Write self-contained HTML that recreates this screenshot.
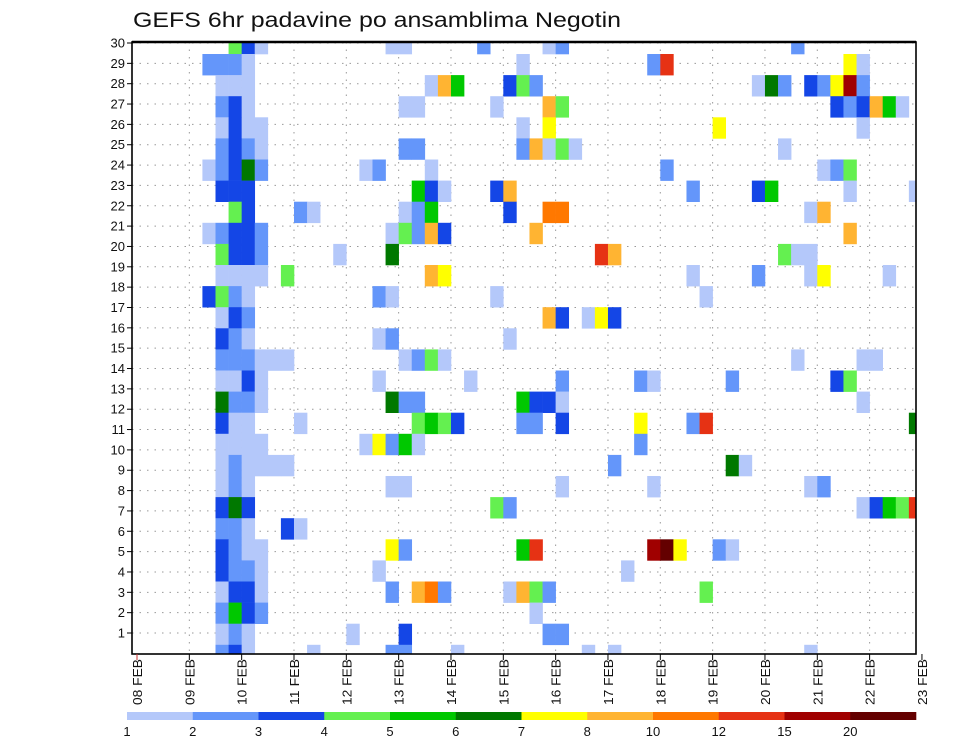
<!DOCTYPE html>
<html><head><meta charset="utf-8"><style>
body{margin:0;background:#fff;}
svg{display:block;font-family:"Liberation Sans",sans-serif;}
</style></head><body>
<svg id="chart" width="960" height="742" viewBox="0 0 960 742" xmlns="http://www.w3.org/2000/svg">
<text x="133" y="27" font-size="21" textLength="488" lengthAdjust="spacingAndGlyphs" fill="#111">GEFS 6hr padavine po ansamblima Negotin</text>
<g id="grid"></g>
<g id="cells"></g>
<g id="axes"></g>
<g id="legend"></g>
</svg>
<script>
const classLabels = ['1','2','3','4','5','6','7','8','10','12','15','20'];
const classColors = ['#b4c8fa','#6496fa','#1446e6','#64f050','#00c800','#007800','#ffff00','#ffb432','#ff7800','#e63214','#a00000','#640000'];
const dayLabels = ['08 FEB','09 FEB','10 FEB','11 FEB','12 FEB','13 FEB','14 FEB','15 FEB','16 FEB','17 FEB','18 FEB','19 FEB','20 FEB','21 FEB','22 FEB','23 FEB'];
const memberLabels = [30,29,28,27,26,25,24,23,22,21,20,19,18,17,16,15,14,13,12,11,10,9,8,7,6,5,4,3,2,1];
// each row: [6h step index, precipitation class (1..12)]
const row00 = [[7,4],[8,3],[9,1],[19,1],[20,1],[26,2],[31,1],[32,2],[50,2]];
const row01 = [[5,2],[6,2],[7,2],[8,1],[29,1],[39,2],[40,10],[54,7],[55,1]];
const row02 = [[6,1],[7,1],[8,1],[22,1],[23,8],[24,5],[28,3],[29,4],[30,2],[47,1],[48,6],[49,2],[51,3],[52,2],[53,7],[54,11],[55,2]];
const row03 = [[6,2],[7,3],[8,1],[20,1],[21,1],[27,1],[31,8],[32,4],[53,3],[54,2],[55,3],[56,8],[57,5],[58,1]];
const row04 = [[6,1],[7,3],[8,1],[9,1],[29,1],[31,7],[44,7],[55,1]];
const row05 = [[6,2],[7,3],[8,2],[9,1],[20,2],[21,2],[29,2],[30,8],[31,1],[32,4],[33,1],[49,1]];
const row06 = [[5,1],[6,2],[7,3],[8,6],[9,2],[17,1],[18,2],[22,1],[40,2],[52,1],[53,2],[54,4]];
const row07 = [[6,3],[7,3],[8,3],[21,5],[22,3],[23,1],[27,3],[28,8],[42,2],[47,3],[48,5],[54,1],[59,1]];
const row08 = [[7,4],[8,3],[12,2],[13,1],[20,1],[21,2],[22,5],[28,3],[31,9],[32,9],[51,1],[52,8]];
const row09 = [[5,1],[6,2],[7,3],[8,3],[9,2],[19,1],[20,4],[21,2],[22,8],[23,3],[30,8],[54,8]];
const row10 = [[6,4],[7,3],[8,3],[9,2],[15,1],[19,6],[35,10],[36,8],[49,4],[50,1],[51,1]];
const row11 = [[6,1],[7,1],[8,1],[9,1],[11,4],[22,8],[23,7],[42,1],[47,2],[51,1],[52,7],[57,1]];
const row12 = [[5,3],[6,4],[7,2],[8,1],[18,2],[19,1],[27,1],[43,1]];
const row13 = [[6,1],[7,3],[8,2],[31,8],[32,3],[34,1],[35,7],[36,3]];
const row14 = [[6,3],[7,2],[8,1],[18,1],[19,2],[28,1]];
const row15 = [[6,2],[7,2],[8,2],[9,1],[10,1],[11,1],[20,1],[21,2],[22,4],[23,1],[50,1],[55,1],[56,1]];
const row16 = [[6,1],[7,1],[8,3],[9,1],[18,1],[25,1],[32,2],[38,2],[39,1],[45,2],[53,3],[54,4]];
const row17 = [[6,6],[7,2],[8,2],[9,1],[19,6],[20,2],[21,2],[29,5],[30,3],[31,3],[32,1],[55,1]];
const row18 = [[6,3],[7,1],[8,1],[12,1],[21,4],[22,5],[23,4],[24,3],[29,2],[30,2],[32,3],[38,7],[42,2],[43,10],[59,6]];
const row19 = [[6,1],[7,1],[8,1],[9,1],[17,1],[18,7],[19,2],[20,5],[21,1],[38,2]];
const row20 = [[6,1],[7,2],[8,1],[9,1],[10,1],[11,1],[36,2],[45,6],[46,1]];
const row21 = [[6,1],[7,2],[8,1],[19,1],[20,1],[32,1],[39,1],[51,1],[52,2]];
const row22 = [[6,3],[7,6],[8,3],[27,4],[28,2],[55,1],[56,3],[57,5],[58,4],[59,10]];
const row23 = [[6,2],[7,2],[8,1],[11,3],[12,1]];
const row24 = [[6,3],[7,2],[8,1],[9,1],[19,7],[20,2],[29,5],[30,10],[39,11],[40,12],[41,7],[44,2],[45,1]];
const row25 = [[6,3],[7,2],[8,2],[9,1],[18,1],[37,1]];
const row26 = [[6,1],[7,3],[8,3],[9,1],[19,2],[21,8],[22,9],[23,2],[28,1],[29,8],[30,4],[31,2],[43,4]];
const row27 = [[6,2],[7,5],[8,3],[9,2],[30,1]];
const row28 = [[6,1],[7,2],[8,1],[16,1],[20,3],[31,2],[32,2]];
const row29 = [[6,2],[7,3],[8,1],[13,1],[19,2],[20,2],[24,1],[34,1],[36,1],[51,1]];
const rows = [row00,row01,row02,row03,row04,row05,row06,row07,row08,row09,row10,row11,row12,row13,row14,row15,row16,row17,row18,row19,row20,row21,row22,row23,row24,row25,row26,row27,row28,row29];

const NS='http://www.w3.org/2000/svg';
const PL=132,PR=916,PT=42,PB=654;
const T0=137,DAY=52.33,STEP=DAY/4;
function xStep(s){return T0+s*STEP;}
function xDay(d){return T0+d*DAY;}
const RH=21.1;
function yRowTop(j){return 54+(j-1)*RH;}
function yLabel(i){return 43+i*20.345;}
function mk(tag,attrs,parent){const e=document.createElementNS(NS,tag);for(const k in attrs)e.setAttribute(k,attrs[k]);parent.appendChild(e);return e;}

const grid=document.getElementById('grid');
const cells=document.getElementById('cells');
const axes=document.getElementById('axes');
const legend=document.getElementById('legend');

// grid lines
for(let i=0;i<memberLabels.length;i++){
  const l=mk('line',{x1:PL,x2:PR,y1:yLabel(i),y2:yLabel(i),stroke:'#999','stroke-width':1,'stroke-dasharray':'1.5,6'},grid);
  
  
}
for(let d=1;d<dayLabels.length-1;d++){
  const l=mk('line',{x1:xDay(d),x2:xDay(d),y1:PT,y2:PB,stroke:'#999','stroke-width':1,'stroke-dasharray':'1.5,6'},grid);
  
  
}

// cells
const clip=mk('clipPath',{id:'plotclip'},document.getElementById('chart'));
mk('rect',{x:PL,y:PT,width:PR-PL,height:PB-PT},clip);
cells.setAttribute('clip-path','url(#plotclip)');
rows.forEach((row,j)=>{
  row.forEach(([s,c])=>{
    const r=mk('rect',{x:xStep(s).toFixed(2),y:yRowTop(j).toFixed(2),width:(STEP+0.3).toFixed(2),height:(RH+0.3).toFixed(2),fill:classColors[c-1]},cells);
    
    
  });
});

// frame
const fr=mk('rect',{x:PL,y:PT,width:PR-PL,height:PB-PT,fill:'none',stroke:'#000','stroke-width':1.6},axes);


mk('line',{x1:PL,x2:PR,y1:PT,y2:PT,stroke:'#000','stroke-width':2.4},axes);

// y labels
memberLabels.forEach((m,i)=>{
  const y=yLabel(i);
  mk('line',{x1:PL-5,x2:PL,y1:y,y2:y,stroke:'#000','stroke-width':1},axes);
  const t=mk('text',{x:PL-7,y:y+4.5,'font-size':13,'text-anchor':'end',fill:'#111'},axes);
  t.textContent=m;
  
  
});

// x labels
dayLabels.forEach((lab,d)=>{
  const x=xDay(d);
  mk('line',{x1:x,x2:x,y1:PB,y2:PB+6,stroke:d===0?'#c33':'#000','stroke-width':1},axes);
  const t=mk('text',{x:0,y:0,'font-size':13,'text-anchor':'end',fill:'#111',textLength:46,lengthAdjust:'spacingAndGlyphs',transform:'translate('+(x+5)+','+(PB+5)+') rotate(-90)'},axes);
  t.textContent=lab;
  
  
});

// legend
const LX=127,LW=65.75,LY=712,LH=8;
classColors.forEach((c,i)=>{
  const r=mk('rect',{x:LX+i*LW,y:LY,width:LW+0.3,height:LH,fill:c},legend);
  
  
});
classLabels.forEach((lab,i)=>{
  const t=mk('text',{x:LX+i*LW,y:736,'font-size':13,'text-anchor':'middle',fill:'#111'},legend);
  t.textContent=lab;
  
  
});
</script>
</body></html>
